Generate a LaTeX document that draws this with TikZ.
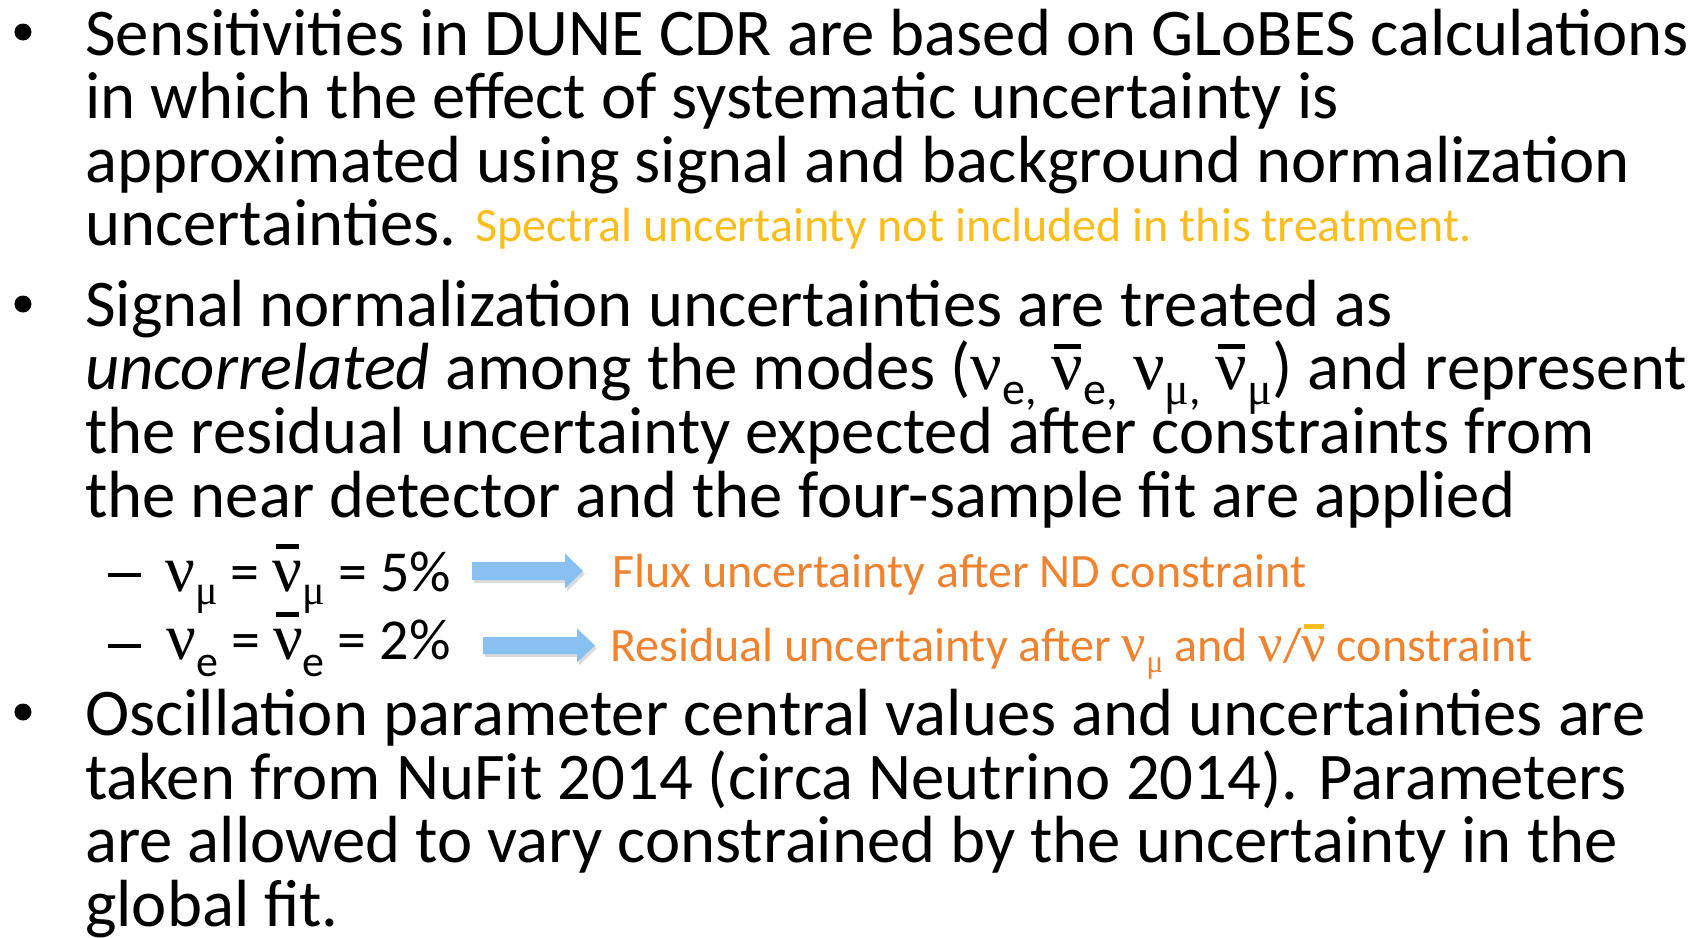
\documentclass[tikz,border=0pt]{standalone}
\usepackage{fontspec}
\setmainfont{Carlito}
\newfontfamily\grk{Liberation Serif}
\usetikzlibrary{calc}
\definecolor{gold}{HTML}{F9BE1E}
\definecolor{orng}{HTML}{EE8331}
\definecolor{arrowblue}{HTML}{87C0F1}
% Greek nu in a serif face
\newcommand\gnu[1]{{\fontsize{#1}{#1}\selectfont\grk ν}}
% nu with bar: [colour]{size}{bar width}{raise}
\newcommand\gnub[4][black]{\leavevmode\setbox0\hbox{\gnu{#2}}\rlap{\hbox to \wd0{\hss\raisebox{#4pt}{\textcolor{#1}{\rule{#3pt}{5.5pt}}}\hss}}\box0}
% lowered subscript: {drop}{size}{text}
\newcommand\lsub[3]{\raisebox{-#1pt}{\fontsize{#2}{#2}\selectfont #3}}
\newcommand\gmu{{\grk μ}}
\tikzset{
  txt/.style={anchor=base west, inner sep=0pt, font=\fontsize{66.7}{66.7}\selectfont},
  subtxt/.style={anchor=base west, inner sep=0pt, font=\fontsize{58}{58}\selectfont},
  note/.style={anchor=base west, inner sep=0pt, font=\fontsize{48}{48}\selectfont, text=orng},
  spec/.style={anchor=base west, inner sep=0pt, font=\fontsize{48}{48}\selectfont, text=gold},
  dot/.style={circle, fill=black, inner sep=0pt, minimum size=17pt},
  dashbul/.style={fill=black, inner sep=0pt, minimum width=33pt, minimum height=4.5pt},
}
\newcommand\blockarrow[4]{% start, end, shaft half, head half
  \fill[black!40, opacity=0.35] ($(#1)+(2,3)+(0,-#3)$) -- ($(#2)+(2,3)+(-18,-#3)$) -- ($(#2)+(2,3)+(-18,-#4)$) -- ($(#2)+(2,3)$) -- ($(#2)+(2,3)+(-18,#4)$) -- ($(#2)+(2,3)+(-18,#3)$) -- ($(#1)+(2,3)+(0,#3)$) -- cycle;
  \fill[arrowblue] ($(#1)+(0,-#3)$) -- ($(#2)+(-18,-#3)$) -- ($(#2)+(-18,-#4)$) -- (#2) -- ($(#2)+(-18,#4)$) -- ($(#2)+(-18,#3)$) -- ($(#1)+(0,#3)$) -- cycle;
}
\begin{document}
\begin{tikzpicture}[x=1pt,y=-1pt]
\useasboundingbox (0,0) rectangle (1705,937);
% bullets
\node[dot] (b1) at (23,32) {};
\node[dot] (b2) at (23,304) {};
\node[dot] (b3) at (23,712) {};
% first bullet
\node[txt] (l1) at (85,55) {Sensitivities in DUNE CDR are based on GLoBES calculations};
\node[txt] (l2) at (85,118) {in which the effect of systematic uncertainty is};
\node[txt] (l3) at (85,182) {approximated using signal and background normalization};
\node[txt] (l4) at (85,245) {uncertainties.};
\node[spec] (s4) at (475,241) {Spectral uncertainty not included in this treatment.};
% second bullet
\node[txt] (l5) at (85,326) {Signal normalization uncertainties are treated as};
\node[txt] (l6) at (85,389) {\textit{uncorrelated} among the modes (\gnu{70}\lsub{15}{46}{e,} \gnub{70}{27}{40}\lsub{15}{46}{e,} \gnu{70}\lsub{15}{46}{\gmu,} \gnub{70}{27}{40}\lsub{15}{46}{\gmu}) and represent};
\node[txt] (l7) at (85,453) {the residual uncertainty expected after constraints from};
\node[txt] (l8) at (85,517) {the near detector and the four-sample fit are applied};
% sub bullets
\node[dashbul] (d1) at (124,575) {};
\node[dashbul] (d2) at (124,646) {};
\node[subtxt] (m1) at (165,591) {\gnu{66}\lsub{13}{42}{\gmu} = \gnub{66}{23}{42}\lsub{13}{42}{\gmu} = 5\%};
\node[subtxt] (m2) at (166,659) {\gnu{66}\lsub{17}{44}{e} = \gnub{66}{23}{42}\lsub{17}{44}{e} = 2\%};
\coordinate (a1s) at (472,571);
\coordinate (a1e) at (583,571);
\coordinate (a2s) at (483,645.5);
\coordinate (a2e) at (595,645.5);
\blockarrow{a1s}{a1e}{9}{17.5}
\blockarrow{a2s}{a2e}{8.5}{17}
\node[note] (n1) at (612,587) {Flux uncertainty after ND constraint};
\node[note] (n2) at (610,661) {Residual uncertainty after \gnu{54}\lsub{11}{32}{\gmu} and \gnu{54}/\gnub[gold]{54}{20}{32}\ constraint};
% third bullet
\node[txt] (l9) at (85,735) {Oscillation parameter central values and uncertainties are};
\node[txt] (l10) at (85,799) {taken from NuFit 2014 (circa Neutrino 2014). Parameters};
\node[txt] (l11) at (85,862) {are allowed to vary constrained by the uncertainty in the};
\node[txt] (l12) at (85,926) {global fit.};
\end{tikzpicture}
\end{document}
